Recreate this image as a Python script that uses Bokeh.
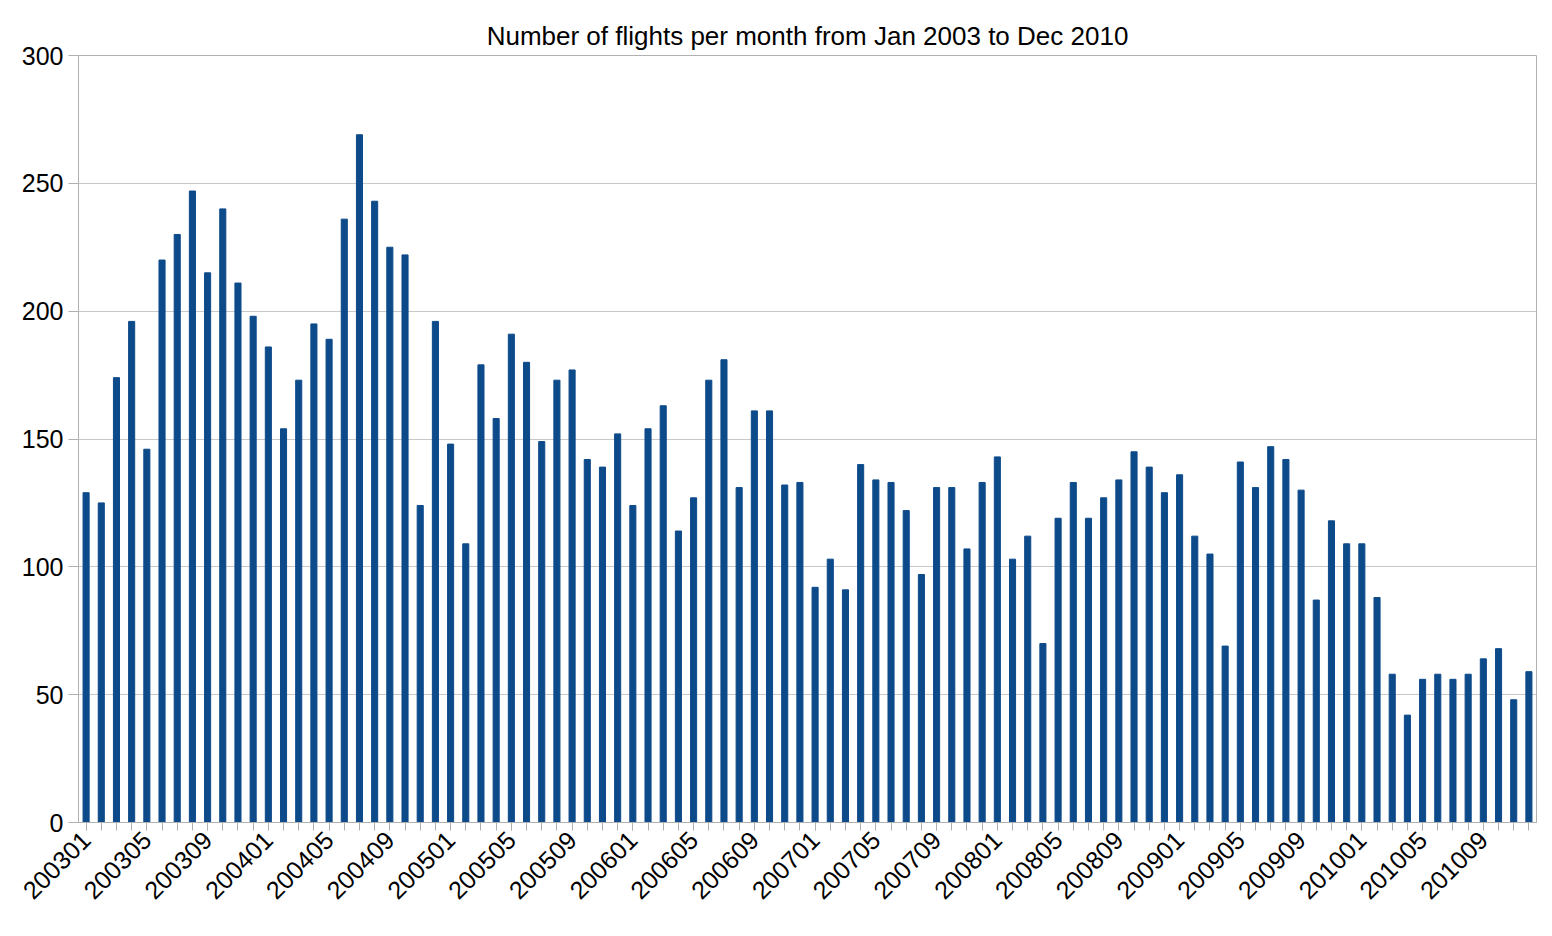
import math
from bokeh.plotting import figure
from bokeh.models import FixedTicker, Range1d
from bokeh.embed import file_html
from bokeh.resources import INLINE

months = [f"{y}{m:02d}" for y in range(2003, 2011) for m in range(1, 13)]
flights = [129,125,174,196,146,220,230,247,215,240,211,198,
           186,154,173,195,189,236,269,243,225,222,124,196,
           148,109,179,158,191,180,149,173,177,142,139,152,
           124,154,163,114,127,173,181,131,161,161,132,133,
           92,103,91,140,134,133,122,97,131,131,107,133,
           143,103,112,70,119,133,119,127,134,145,139,129,
           136,112,105,69,141,131,147,142,130,87,118,109,
           109,88,58,42,56,58,56,58,64,68,48,59]
xs = list(range(len(months)))

p = figure(width=1540, height=922, output_backend="svg", toolbar_location=None,
           x_range=Range1d(-0.5, 95.5), y_range=Range1d(0, 300),
           title="Number of flights per month from Jan 2003 to Dec 2010",
           min_border_left=78, min_border_right=4, min_border_top=55,
           min_border_bottom=100)
p.title.align = "center"
p.title.text_font = "Liberation Sans"
p.title.text_font_size = "26px"
p.title.text_font_style = "normal"
p.title.text_color = "black"
p.vbar(x=xs, top=flights, width=0.4, color="#0d4a8a")

p.xaxis.ticker = FixedTicker(ticks=xs[::4], minor_ticks=xs)
p.xaxis.major_label_overrides = {i: months[i] for i in xs[::4]}
p.xaxis.major_label_orientation = math.pi / 4
p.yaxis.ticker = FixedTicker(ticks=[0, 50, 100, 150, 200, 250, 300])
for ax in (p.xaxis, p.yaxis):
    ax.major_label_text_font = "Liberation Sans"
    ax.major_label_text_font_size = "25px"
    ax.major_label_text_color = "black"
    ax.axis_line_color = "#b0b0b0"
    ax.major_tick_line_color = "#b0b0b0"
    ax.minor_tick_line_color = "#b0b0b0"
p.xaxis.major_tick_out = 8
p.xaxis.minor_tick_out = 8
p.xaxis.major_tick_in = 0
p.xaxis.minor_tick_in = 0
p.yaxis.minor_tick_line_color = None
p.yaxis.major_tick_in = 0
p.yaxis.major_tick_out = 10
p.xgrid.grid_line_color = None
p.ygrid.grid_line_color = "#c8c8c8"
p.outline_line_color = "#b0b0b0"

open("out.html", "w").write(file_html(p, INLINE))
